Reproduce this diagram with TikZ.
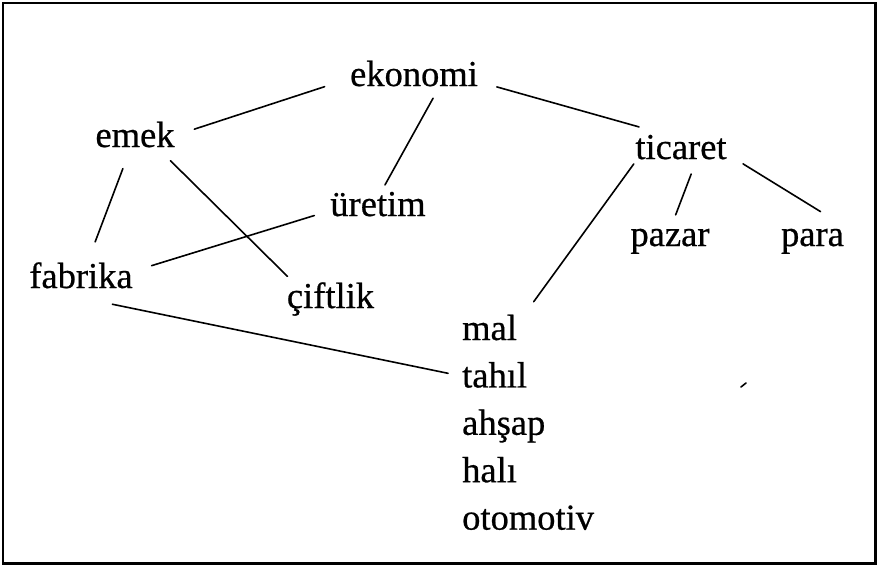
\documentclass[tikz,border=0pt]{standalone}
\usepackage{fontspec}
\setmainfont[FakeBold=0.6]{Liberation Serif}
\usepackage{tikz}
\usetikzlibrary{positioning}
\tikzstyle{word} = [rectangle, inner xsep=12pt, inner ysep=4pt, text height=26pt, text depth=8pt, font=\fontsize{36.5}{44}\selectfont]
\tikzstyle{link} = [line width=1.6pt, line cap=round]
\tikzstyle{frame} = [line width=2.6pt]

\begin{document}
\begin{tikzpicture}[x=1pt, y=-1pt, node distance=5pt]
	\useasboundingbox (0,0) rectangle (879,566);
	%外框
	\draw [frame] (3,3) rectangle (875.5,563.5);
	
	%词语
	\node (ekonomi) [word, anchor=base] at (414,86) {ekonomi};
	\node (emek) [word, anchor=base] at (135,147) {emek};
	\node (uretim) [word, anchor=base] at (378,216) {üretim};
	\node (fabrika) [word, anchor=base] at (81,288) {fabrika};
	\node (ciftlik) [word, anchor=base] at (330.5,308) {çiftlik};
	\node (ticaret) [word, anchor=base] at (681,159) {ticaret};
	\node (pazar) [word, anchor=base] at (670,246) {pazar};
	\node (para) [word, anchor=base] at (812.5,246) {para};
	
	\node (mal) [word, anchor=base west] at (450,340) {mal};
	\node (tahil) [word, below=of mal.south west, anchor=north west] {tahıl};
	\node (ahsap) [word, below=of tahil.south west, anchor=north west] {ahşap};
	\node (hali) [word, below=of ahsap.south west, anchor=north west] {halı};
	\node (otomotiv) [word, below=of hali.south west, anchor=north west] {otomotiv};
	
	%连线
	\draw [link, shorten <=8pt, shorten >=14pt](emek.7) -- (ekonomi.184);
	\draw [link, shorten >=1pt](ekonomi.-48) -- (uretim.73);
	\draw [link, shorten <=7pt, shorten >=7pt](ekonomi.-6) -- (ticaret.149);
	\draw [link, shorten <=10pt, shorten >=17pt](emek.248) -- (fabrika.69);
	\draw [link, shorten <=2pt, shorten >=2pt](emek.-32) -- (ciftlik.153);
	\draw [link, shorten <=4pt, shorten >=7pt](uretim.187) -- (fabrika.10);
	\draw [link, shorten <=-9pt, shorten >=10pt](ticaret.202) -- (mal.29);
	\draw [link, shorten <=3pt, shorten >=1pt](ticaret.-62) -- (pazar.76);
	\draw [link, shorten <=5pt, shorten >=8pt](ticaret.-11) -- (para.55);
	\draw [link, shorten <=20pt, shorten >=2pt](fabrika.-61) -- (tahil.174);
	
	%小记号
	\coordinate (mark1) at (741,387);
	\coordinate (mark2) at (746,383);
	\draw [link](mark1) -- (mark2);
	
\end{tikzpicture}
\end{document}
